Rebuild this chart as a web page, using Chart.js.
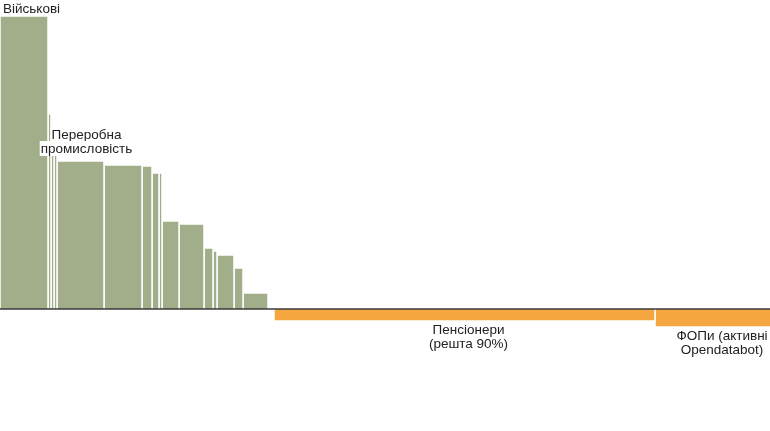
<!DOCTYPE html>
<html>
<head>
<meta charset="utf-8">
<script src="https://cdn.jsdelivr.net/npm/chart.js@4"></script>
<style>
  body { margin: 0; background: #fff; }
  #wrap { width: 770px; height: 431px; position: relative; }
</style>
</head>
<body>
<div id="wrap"><canvas id="myChart"></canvas></div>
<script>
// категорії (підписані лише ті, що видно на картинці)
const categories = ['Військові', '', '', '', 'Переробна промисловість', '', '', '', '', '', '', '', '', '', '', '', '', 'Пенсіонери', 'ФОПи']
// ширина кожного стовпця
const widths = [48, 3, 3, 3, 47, 38, 10, 7, 3, 17, 25, 9, 4, 17, 9, 25, 6, 381, 134]
// висота (додатні - зелені, від'ємні - помаранчеві)
const values = [293, 195, 183, 170, 148, 144, 143, 136, 136, 88, 85, 61, 58, 54, 41, 16, 0, -12, -18]
// підписи
const labelTexts = [
    ['Військові'],
    ['Переробна', 'промисловість'],
    ['Пенсіонери', '(решта 90%)'],
    ['ФОПи (активні', 'Opendatabot)']
]
const labelIndex = [0, 4, 17, 18]

const green = '#a2ad89'
const orange = '#f5a641'

// рахуємо межі стовпців
let starts = []
let acc = 0
widths.forEach(w => { starts.push(acc); acc += w })

const datasets = []
values.forEach((v, i) => {
    if (v === 0) return
    const x0 = starts[i], x1 = starts[i] + widths[i]
    datasets.push({
        label: categories[i],
        data: [{ x: x0, y: 0 }, { x: x0, y: v }, { x: x1, y: v }, { x: x1, y: 0 }],
        backgroundColor: v > 0 ? green : orange,
        borderColor: '#ffffff',
        borderWidth: 1.5,
        fill: 'origin',
        pointRadius: 0,
        tension: 0
    })
})

// базова лінія
datasets.push({
    label: 'base',
    data: [{ x: 0, y: 0 }, { x: 770, y: 0 }],
    borderColor: '#3b3b3b',
    borderWidth: 1.6,
    pointRadius: 0,
    fill: false,
    order: -1
})

const labelsPlugin = {
    id: 'labelsPlugin',
    afterDatasetsDraw(chart) {
        const ctx = chart.ctx
        const xs = chart.scales.x
        const ys = chart.scales.y
        ctx.save()
        ctx.font = '13.5px "Liberation Sans", Arial, sans-serif'
        ctx.fillStyle = '#222'
        ctx.textBaseline = 'top'
        const lh = 14
        labelTexts.forEach((lines, k) => {
            const i = labelIndex[k]
            const v = values[i]
            const x0 = xs.getPixelForValue(starts[i])
            const cx = xs.getPixelForValue(starts[i] + widths[i] / 2)
            const yTop = ys.getPixelForValue(v)
            let ax, ay, align, bg
            if (k === 0) {
                ax = x0 + 3; ay = yTop - lh + 1; align = 'left'; bg = true
            } else if (k === 1) {
                ax = cx + 6; ay = yTop - 4 - lh * 2; align = 'center'; bg = true
            } else {
                ax = cx + (k === 2 ? 4 : 0); ay = yTop + 3; align = 'center'; bg = false
            }
            ctx.textAlign = align
            lines.forEach((t, j) => {
                const w = ctx.measureText(t).width
                const y = ay + j * lh
                if (bg) {
                    ctx.fillStyle = '#fff'
                    const left = align === 'left' ? ax - 1 : ax - w / 2 - 1
                    ctx.fillRect(left, y - 2, w + 2, lh + 1)
                    ctx.fillStyle = '#222'
                }
                ctx.fillText(t, ax, y)
            })
        })
        ctx.restore()
    }
}

const ctx = document.getElementById('myChart')
new Chart(ctx, {
    type: 'line',
    data: { datasets: datasets },
    options: {
        responsive: true,
        maintainAspectRatio: false,
        animation: false,
        layout: { padding: 0 },
        plugins: { legend: { display: false }, tooltip: { enabled: false } },
        scales: {
            x: { type: 'linear', min: 0, max: 770, display: false },
            y: { min: -122, max: 309, display: false }
        }
    },
    plugins: [labelsPlugin]
})
</script>
</body>
</html>
